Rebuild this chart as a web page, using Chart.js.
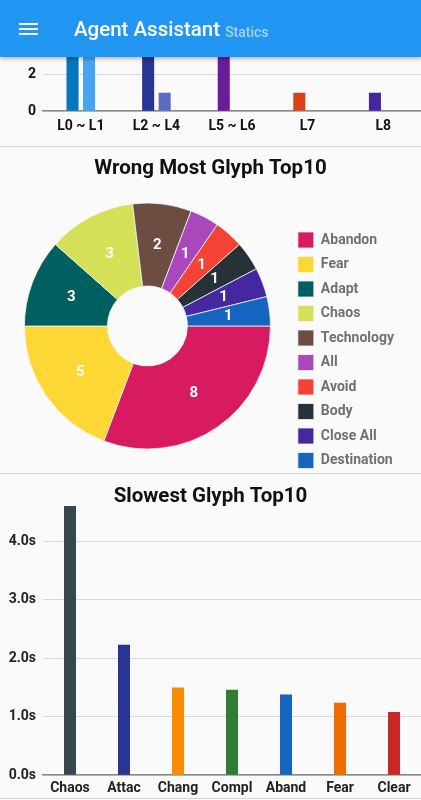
<!DOCTYPE html>
<html><head><meta charset="utf-8">
<script src="https://cdn.jsdelivr.net/npm/chart.js@4.4.1/dist/chart.umd.min.js"></script>
<style>
html,body{margin:0;padding:0;background:#fafafa;width:421px;height:800px;overflow:hidden;font-family:Roboto,sans-serif;}
.appbar{position:absolute;left:0;top:0;width:421px;height:57px;background:#2196F3;box-shadow:0 2px 4px rgba(0,0,0,0.28);z-index:10;}
.hb{position:absolute;left:19px;width:19px;height:2px;background:#fff;}
.title{position:absolute;left:74px;top:19px;line-height:20px;white-space:nowrap;color:#fff;}
.t1{font-size:20.5px;font-weight:500;}
.t2{font-size:14px;font-weight:500;color:#a6d2f8;margin-left:5px;position:relative;top:1px;}
.sep{position:absolute;left:0;width:421px;height:1px;background:#d4d4d4;z-index:5;}
.cw{position:absolute;left:0;width:421px;}
</style></head><body>
<div class="appbar">
  <div class="hb" style="top:23px"></div>
  <div class="hb" style="top:28px"></div>
  <div class="hb" style="top:33px"></div>
  <div class="title"><span class="t1">Agent Assistant</span><span class="t2">Statics</span></div>
</div>
<div class="cw" style="top:0;height:146px"><canvas id="c1"></canvas></div>
<div class="sep" style="top:146px"></div>
<div class="cw" style="top:147px;height:331px"><canvas id="c2"></canvas></div>
<div class="sep" style="top:473px"></div>
<div class="cw" style="top:474px;height:326px"><canvas id="c3"></canvas></div>
<div class="sep" style="top:798px"></div>
<script>
// ---- data ----
const levelLabels = ['L0 ~ L1', 'L2 ~ L4', 'L5 ~ L6', 'L7', 'L8'];
const levelSeriesA = [4, 3, 3, 1, 1];
const levelSeriesB = [3, 1, 0, 0, 0];
const levelColorsA = ['#0277BD', '#283593', '#6A1B9A', '#D84315', '#4527A0'];
const levelColorsB = ['#45A5F2', '#5C6BC0', '#8E24AA', '#FF7043', '#7E57C2'];

const glyphLabels = ['Abandon', 'Fear', 'Adapt', 'Chaos', 'Technology', 'All', 'Avoid', 'Body', 'Close All', 'Destination'];
const glyphWrongCounts = [8, 5, 3, 3, 2, 1, 1, 1, 1, 1];
const glyphColors = ['#D81B60', '#FDD835', '#005F5F', '#D4E157', '#6D4C41', '#AB47BC', '#F44336', '#263238', '#4527A0', '#1565C0'];

const slowLabels = ['Chaos', 'Attac', 'Chang', 'Compl', 'Aband', 'Fear', 'Clear'];
const slowSeconds = [4.60, 2.23, 1.50, 1.46, 1.38, 1.24, 1.08];
const slowColors = ['#37474F', '#283593', '#FB8C00', '#2E7D32', '#1565C0', '#EF6C00', '#C62828'];

// ---- setup ----
Chart.defaults.font.family = 'Roboto';
Chart.defaults.animation = false;
Chart.defaults.plugins.tooltip.enabled = false;

const tickFont = {size: 14, weight: 'bold'};
const gridColor = '#d8d8d8';
const axisColor = '#8a8a8a';

const sliceLabels = {
  id: 'sliceLabels',
  afterDatasetsDraw(chart) {
    const ctx = chart.ctx;
    const meta = chart.getDatasetMeta(0);
    const data = chart.data.datasets[0].data;
    ctx.save();
    ctx.fillStyle = '#ffffff';
    ctx.font = 'bold 15px Roboto';
    ctx.textAlign = 'center';
    ctx.textBaseline = 'middle';
    meta.data.forEach((arc, i) => {
      const p = arc.tooltipPosition();
      ctx.fillText(String(data[i]), p.x, p.y);
    });
    ctx.restore();
  }
};

// centre the title over the whole canvas width
const fullWidthTitle = {
  id: 'fullWidthTitle',
  afterLayout(chart) {
    const t = chart.titleBlock;
    if (t) { t.left = 0; t.right = chart.width; t.width = chart.width; }
  }
};

// top bar chart (scrolled, partly hidden under the app bar)
new Chart(document.getElementById('c1'), {
  type: 'bar',
  data: {
    labels: levelLabels,
    datasets: [
      {data: levelSeriesA, backgroundColor: levelColorsA, categoryPercentage: 0.437, barPercentage: 0.73},
      {data: levelSeriesB, backgroundColor: levelColorsB, categoryPercentage: 0.437, barPercentage: 0.73}
    ]
  },
  options: {
    responsive: true, maintainAspectRatio: false,
    layout: {padding: {top: 37, bottom: 4, left: 0, right: 0}},
    plugins: {legend: {display: false}},
    scales: {
      x: {grid: {display: false, drawTicks: false}, border: {color: axisColor, width: 1.5},
          ticks: {font: tickFont, color: '#111', padding: 7}},
      y: {beginAtZero: true, afterFit: s => { s.width = 43; },
          grid: {color: gridColor, drawTicks: false}, border: {display: false},
          ticks: {stepSize: 1, font: tickFont, color: '#111', padding: 7}}
    }
  }
});

// doughnut
new Chart(document.getElementById('c2'), {
  type: 'doughnut',
  data: {
    labels: glyphLabels,
    datasets: [{data: glyphWrongCounts, backgroundColor: glyphColors, borderColor: '#f4f4f4', borderWidth: 0.8,
                radius: 123, cutout: '32.5%'}]
  },
  options: {
    responsive: true, maintainAspectRatio: false,
    rotation: 90,
    layout: {padding: {top: 0, bottom: 1, left: 5.5, right: 17}},
    plugins: {
      title: {display: true, text: 'Wrong Most Glyph Top10', color: '#111',
              font: {size: 20.5, weight: 'bold', lineHeight: 1}, padding: {top: 12, bottom: -4.5}},
      legend: {position: 'right', align: 'end',
               labels: {boxWidth: 16, boxHeight: 16, padding: 8.5, color: '#707070',
                        font: {size: 14, weight: 'bold'}}}
    }
  },
  plugins: [sliceLabels, fullWidthTitle]
});

// bottom bar chart
new Chart(document.getElementById('c3'), {
  type: 'bar',
  data: {
    labels: slowLabels,
    datasets: [{data: slowSeconds, backgroundColor: slowColors, categoryPercentage: 0.247, barPercentage: 0.9}]
  },
  options: {
    responsive: true, maintainAspectRatio: false,
    layout: {padding: {top: 0, bottom: -2, left: 0, right: 0}},
    plugins: {
      legend: {display: false},
      title: {display: true, text: 'Slowest Glyph Top10', color: '#111',
              font: {size: 20.5, weight: 'bold', lineHeight: 1}, padding: {top: 13, bottom: -1.5}}
    },
    scales: {
      x: {grid: {display: false, drawTicks: false}, border: {color: axisColor, width: 1.5},
          ticks: {font: tickFont, color: '#222', padding: 5}},
      y: {min: 0, max: Math.max(...slowSeconds), afterFit: s => { s.width = 43; },
          afterBuildTicks: s => { s.ticks = s.ticks.filter(t => Number.isInteger(t.value)); },
          grid: {color: gridColor, drawTicks: false}, border: {display: false},
          ticks: {stepSize: 1, font: tickFont, color: '#222', padding: 7,
                  callback: v => v.toFixed(1) + 's'}}
    }
  }
});
</script>
</body></html>
